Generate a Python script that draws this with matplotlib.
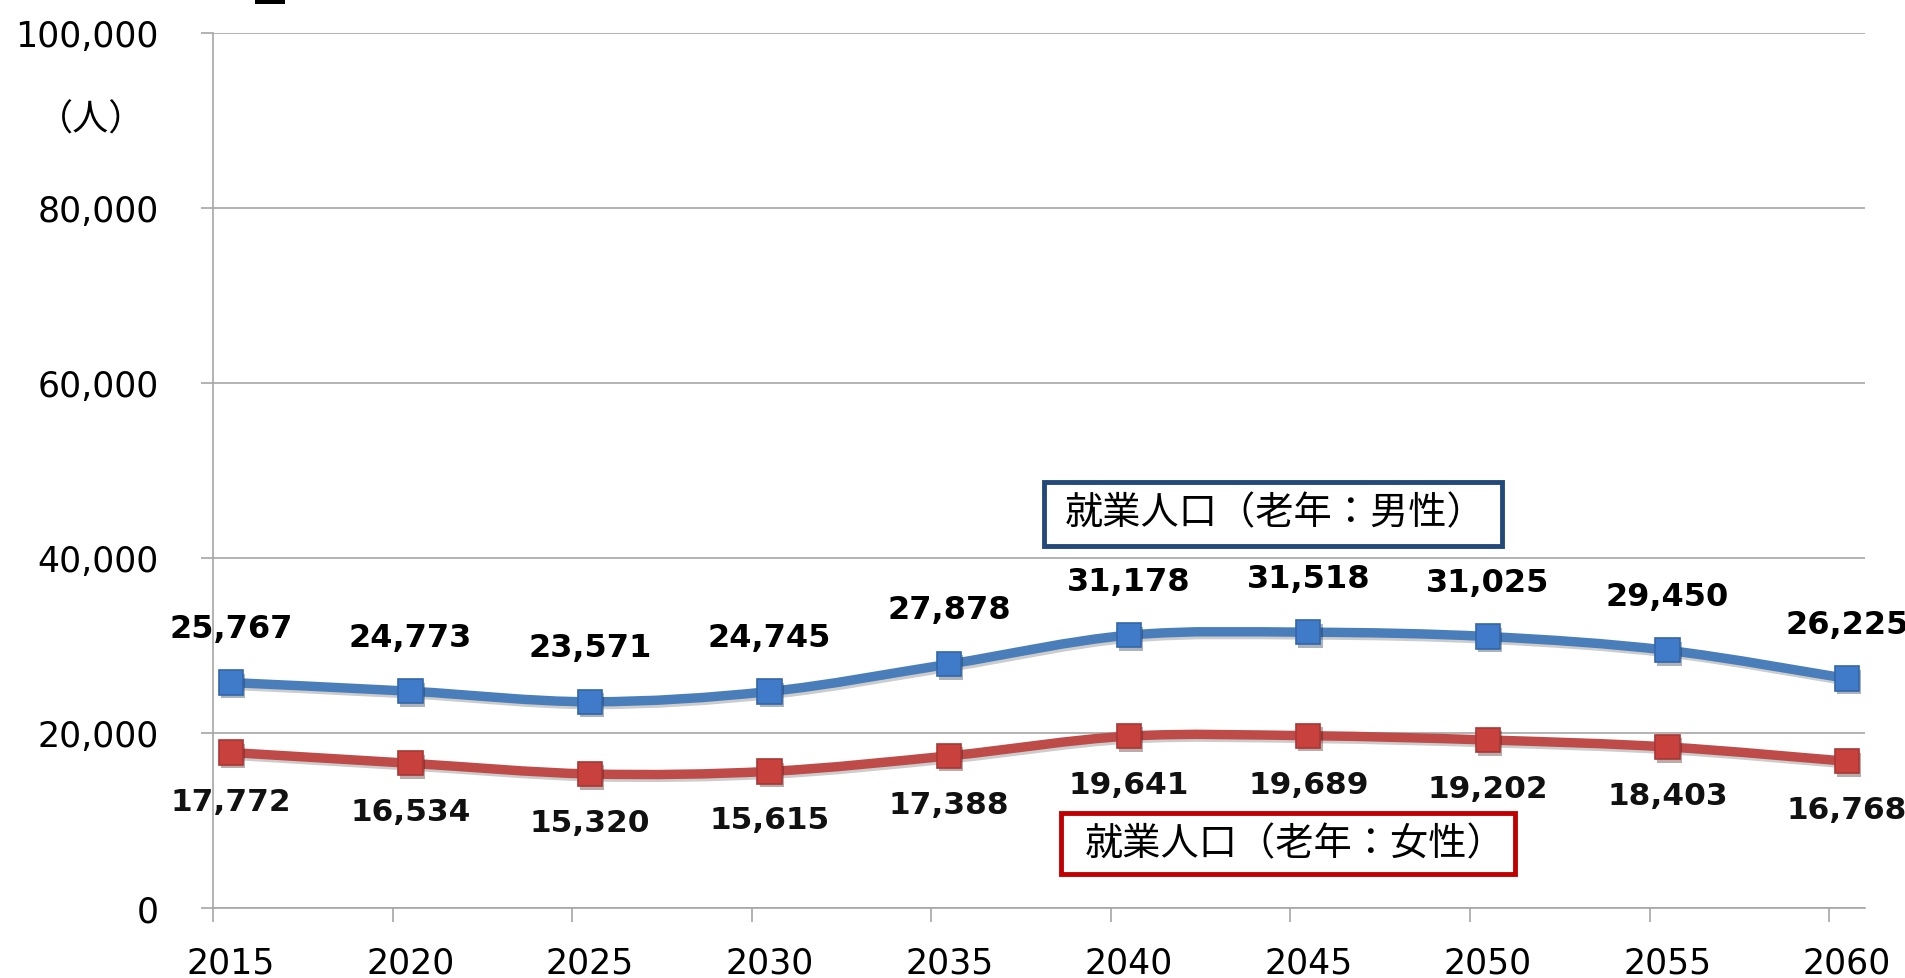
import matplotlib
matplotlib.use('Agg')
import matplotlib.pyplot as plt
from matplotlib.path import Path
from matplotlib.patches import PathPatch, Rectangle
import matplotlib.patheffects as pe
import matplotlib.ticker as mticker
import numpy as np

# ---- data ----
years = ['2015', '2020', '2025', '2030', '2035', '2040', '2045', '2050', '2055', '2060']
male = [25767, 24773, 23571, 24745, 27878, 31178, 31518, 31025, 29450, 26225]
female = [17772, 16534, 15320, 15615, 17388, 19641, 19689, 19202, 18403, 16768]
y_ticks = [0, 20000, 40000, 60000, 80000, 100000]
male_label = '就業人口（老年：男性）'
female_label = '就業人口（老年：女性）'
unit_label = '（人）'

CJK = ['Noto Sans CJK JP', 'DejaVu Sans']

fig = plt.figure(figsize=(19.05, 9.79), dpi=100)
fig.patch.set_facecolor('white')
ax = fig.add_axes([0.1118, 0.0715, 0.979 - 0.1118, 0.9653 - 0.0715])

x = np.arange(len(years))


def smooth_path(xs, ys, t=1 / 6):
    pts = np.column_stack([xs, ys]).astype(float)
    n = len(pts)
    verts = [pts[0]]
    codes = [Path.MOVETO]
    for i in range(n - 1):
        p0 = pts[i - 1] if i > 0 else pts[i]
        p1 = pts[i]
        p2 = pts[i + 1]
        p3 = pts[i + 2] if i + 2 < n else pts[i + 1]
        c1 = p1 + (p2 - p0) * t
        c2 = p2 - (p3 - p1) * t
        verts += [c1, c2, p2]
        codes += [Path.CURVE4] * 3
    return Path(verts, codes)


series = [
    (male, '#4A7EBB', '#3F7BC8', '#3466A8'),
    (female, '#BE4B48', '#C8413D', '#A83835'),
]
for vals, lc, mfc, mec in series:
    patch = PathPatch(smooth_path(x, vals), facecolor='none', edgecolor=lc,
                      lw=6.8, capstyle='round', joinstyle='round',
                      transform=ax.transData, zorder=3)
    patch.set_path_effects([pe.SimpleLineShadow(offset=(1.5, -2), alpha=0.2,
                                                shadow_color='black'),
                            pe.Normal()])
    ax.add_patch(patch)
    ax.plot(x, vals, ls='none', marker='s', ms=17.5, mfc=mfc, mec=mec, mew=1.2,
            zorder=4,
            path_effects=[pe.SimplePatchShadow(offset=(1.5, -2.5), alpha=0.35),
                          pe.Normal()])

for i, v in enumerate(male):
    ax.annotate(f'{v:,}', (x[i], v), xytext=(0, 39), textcoords='offset points',
                ha='center', va='center', fontsize=23, fontweight='bold',
                color='black', zorder=5)
for i, v in enumerate(female):
    ax.annotate(f'{v:,}', (x[i], v), xytext=(0, -35), textcoords='offset points',
                ha='center', va='center', fontsize=22.5, fontweight='bold',
                color='#111111', zorder=5)

# axes styling
ax.set_xlim(-0.1, len(years) - 1 + 0.1)
ax.set_ylim(0, 100000)
ax.set_yticks(y_ticks)
ax.yaxis.set_major_formatter(mticker.FuncFormatter(lambda v, p: f'{int(v):,}'))
ax.set_xticks(x)
ax.set_xticklabels(years)
ax.set_xticks(x - 0.1, minor=True)
ax.tick_params(axis='x', which='major', length=0, pad=27, labelsize=25)
ax.tick_params(axis='x', which='minor', length=10, width=1.2, color='#A6A6A6')
ax.tick_params(axis='y', which='major', length=9, width=1.2, color='#A6A6A6',
               pad=30, labelsize=25)
ax.grid(axis='y', color='#A6A6A6', lw=1.2, zorder=1)
ax.set_axisbelow(True)
for s in ['top', 'right']:
    ax.spines[s].set_visible(False)
for s in ['left', 'bottom']:
    ax.spines[s].set_color('#A6A6A6')
    ax.spines[s].set_linewidth(1.2)

# series label boxes
ax.add_patch(Rectangle((0.503, 0.4137), 0.2772, 0.0731, transform=ax.transAxes,
                       facecolor='white', edgecolor='#23497A', lw=3.5, zorder=6,
                       clip_on=False))
ax.text(0.6428, 0.4514, male_label, transform=ax.transAxes, ha='center',
        va='center', fontsize=27.5, family=CJK, zorder=7)
ax.add_patch(Rectangle((0.5133, 0.0389), 0.2748, 0.0697, transform=ax.transAxes,
                       facecolor='white', edgecolor='#C00000', lw=3.5, zorder=6,
                       clip_on=False))
ax.text(0.6552, 0.0737, female_label, transform=ax.transAxes, ha='center',
        va='center', fontsize=27.5, family=CJK, zorder=7)

# unit label
fig.text(0.0478, 0.8764, unit_label, ha='center', va='center', fontsize=26,
         family=CJK)

# cut-off title fragment at the very top
fig.patches.append(Rectangle((255 / 1905, 1 - 5 / 979), 30 / 1905, 5 / 979,
                             transform=fig.transFigure, facecolor='black',
                             edgecolor='none'))

fig.savefig('out.png', dpi=100, facecolor='white')
